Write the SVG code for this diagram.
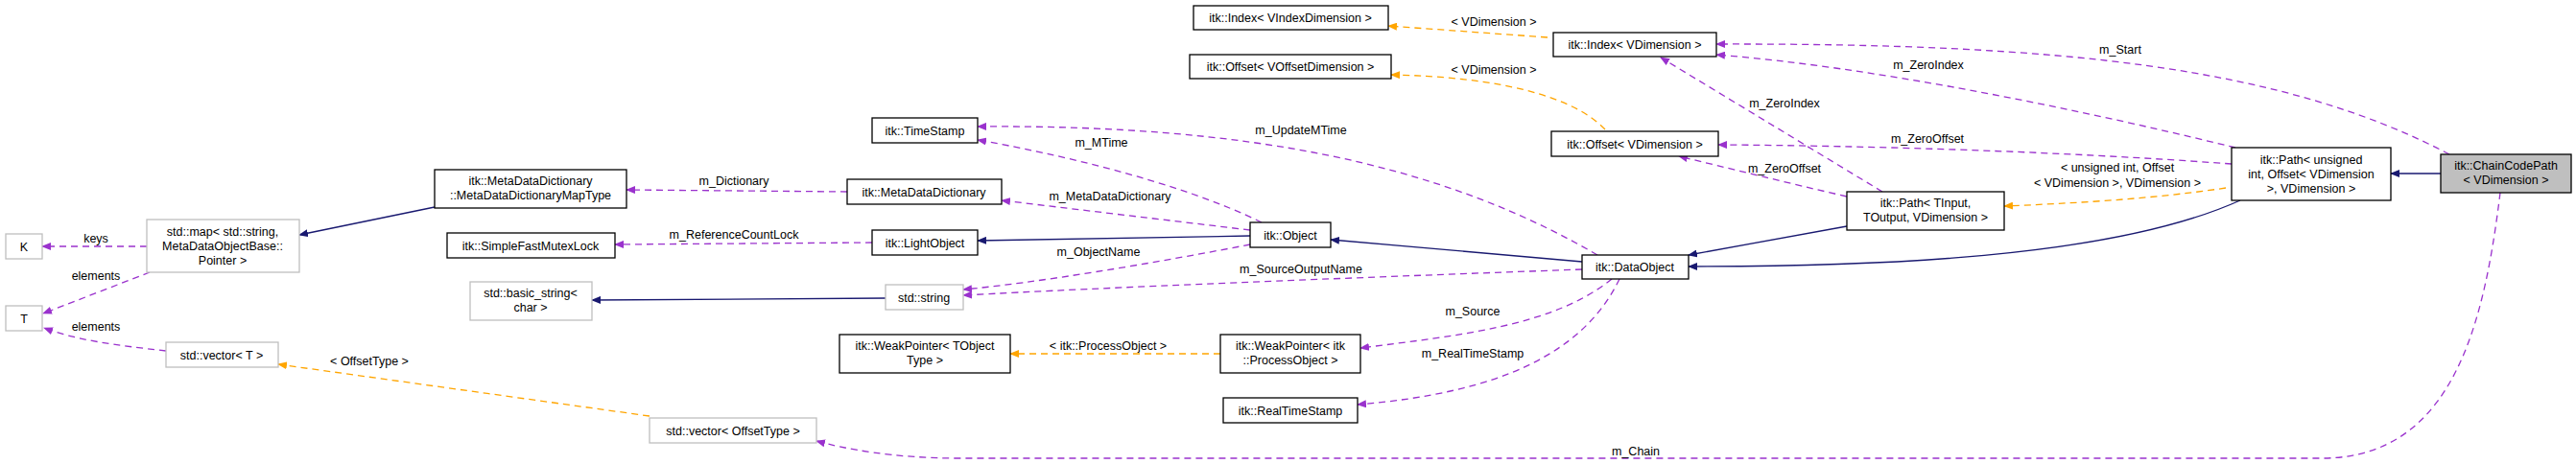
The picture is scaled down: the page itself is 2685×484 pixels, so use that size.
<svg xmlns="http://www.w3.org/2000/svg" width="2685" height="484" viewBox="0 0 2685 484">
<style>
text{font-family:"Liberation Sans",Arial,sans-serif;font-size:12.5px;fill:#000;text-anchor:middle}
.n rect{fill:#fff;stroke:#000;stroke-width:1.3}
.g rect{fill:#fff;stroke:#bfbfbf;stroke-width:1.3}
.sel rect{fill:#bfbfbf;stroke:#000;stroke-width:1.3}
.p{fill:none;stroke:#9a32cd;stroke-dasharray:7,5;stroke-width:1.3;marker-end:url(#ap)}
.o{fill:none;stroke:#ffa500;stroke-dasharray:7,5;stroke-width:1.3;marker-end:url(#ao)}
.b{fill:none;stroke:#191970;stroke-width:1.3;marker-end:url(#ab)}
</style>
<defs>
<marker id="ap" markerWidth="10" markerHeight="8" refX="9" refY="4" orient="auto" markerUnits="userSpaceOnUse"><path d="M0,0L10,4L0,8z" fill="#9a32cd"/></marker>
<marker id="ao" markerWidth="10" markerHeight="8" refX="9" refY="4" orient="auto" markerUnits="userSpaceOnUse"><path d="M0,0L10,4L0,8z" fill="#ffa500"/></marker>
<marker id="ab" markerWidth="10" markerHeight="8" refX="9" refY="4" orient="auto" markerUnits="userSpaceOnUse"><path d="M0,0L10,4L0,8z" fill="#191970"/></marker>
</defs>
<rect width="2685" height="484" fill="#fff"/>
<g id="connectors">
<path class="b" d="M453,216L312,245"/>
<path class="p" d="M153,257L44,257"/>
<path class="p" d="M156,284L45,327"/>
<path class="p" d="M173,366C120,360 80,355 46,342"/>
<path class="o" d="M677,434L290,380"/>
<path class="p" d="M883,200L653,198"/>
<path class="p" d="M909,253L641,255"/>
<path class="b" d="M923,311L617,313"/>
<path class="p" d="M1315,232C1230,190 1100,160 1019,146"/>
<path class="p" d="M1665,266C1500,170 1300,130 1019,132"/>
<path class="p" d="M1303,240L1044,209"/>
<path class="b" d="M1303,246L1019,251"/>
<path class="p" d="M1303,255C1200,275 1080,295 1004,302"/>
<path class="p" d="M1649,281C1400,290 1150,300 1004,308"/>
<path class="b" d="M1649,273L1387,250"/>
<path class="o" d="M1272,369L1053,369"/>
<path class="p" d="M1680,291C1620,340 1520,350 1418,363"/>
<path class="p" d="M1688,291C1650,370 1560,410 1415,422"/>
<path class="o" d="M1613,39L1447,27"/>
<path class="o" d="M1673,135C1640,100 1560,80 1450,78"/>
<path class="p" d="M1962,200L1731,60"/>
<path class="p" d="M1925,205C1860,190 1800,175 1750,163"/>
<path class="b" d="M1925,236L1760,266"/>
<path class="o" d="M2320,196C2240,208 2160,212 2089,215"/>
<path class="b" d="M2335,209C2200,270 1950,278 1760,278"/>
<path class="p" d="M2330,154C2150,110 1950,70 1789,57"/>
<path class="p" d="M2326,171C2150,158 1950,152 1791,151"/>
<path class="b" d="M2544,181L2492,181"/>
<path class="p" d="M2553,161C2380,70 2150,45 1789,46"/>
<path class="p" d="M2606,201C2590,330 2560,478 2420,478L1000,478C930,478 880,468 851,460"/>
<text x="100" y="253">keys</text>
<text x="100" y="292">elements</text>
<text x="100" y="345">elements</text>
<text x="385" y="381">&lt; OffsetType &gt;</text>
<text x="765" y="193">m_Dictionary</text>
<text x="765" y="249">m_ReferenceCountLock</text>
<text x="1148" y="153">m_MTime</text>
<text x="1356" y="140">m_UpdateMTime</text>
<text x="1157" y="209">m_MetaDataDictionary</text>
<text x="1145" y="267">m_ObjectName</text>
<text x="1356" y="285">m_SourceOutputName</text>
<text x="1535" y="329">m_Source</text>
<text x="1535" y="373">m_RealTimeStamp</text>
<text x="1155" y="365">&lt; itk::ProcessObject &gt;</text>
<text x="1705" y="475">m_Chain</text>
<text x="1557" y="27">&lt; VDimension &gt;</text>
<text x="1557" y="77">&lt; VDimension &gt;</text>
<text x="2210" y="56">m_Start</text>
<text x="2010" y="72">m_ZeroIndex</text>
<text x="1860" y="112">m_ZeroIndex</text>
<text x="2009" y="149">m_ZeroOffset</text>
<text x="1860" y="180">m_ZeroOffset</text>
<text x="2207" y="179">&lt; unsigned int, Offset</text>
<text x="2207" y="195">&lt; VDimension &gt;, VDimension &gt;</text>
</g>
<g id="K" class="g"><rect x="6" y="244" width="38" height="26"/><text x="25" y="262">K</text></g>
<g id="T" class="g"><rect x="6" y="319" width="38" height="26"/><text x="25" y="337">T</text></g>
<g id="stdmap" class="g"><rect x="153" y="229" width="159" height="55"/><text x="232" y="246">std::map&lt; std::string,</text><text x="232" y="261">MetaDataObjectBase::</text><text x="232" y="276">Pointer &gt;</text></g>
<g id="MapType" class="n"><rect x="453" y="177" width="200" height="40"/><text x="553" y="193">itk::MetaDataDictionary</text><text x="553" y="208">::MetaDataDictionaryMapType</text></g>
<g id="Mutex" class="n"><rect x="466" y="243" width="175" height="26"/><text x="553" y="261">itk::SimpleFastMutexLock</text></g>
<g id="basicstring" class="g"><rect x="490" y="294" width="127" height="40"/><text x="553" y="310">std::basic_string&lt;</text><text x="553" y="325">char &gt;</text></g>
<g id="vectorT" class="g"><rect x="173" y="357" width="117" height="26"/><text x="231" y="375">std::vector&lt; T &gt;</text></g>
<g id="vectorOffset" class="g"><rect x="677" y="436" width="174" height="26"/><text x="764" y="454">std::vector&lt; OffsetType &gt;</text></g>
<g id="IndexV" class="n"><rect x="1244" y="6" width="203" height="25"/><text x="1345" y="23">itk::Index&lt; VIndexDimension &gt;</text></g>
<g id="OffsetV" class="n"><rect x="1240" y="57" width="210" height="25"/><text x="1345" y="74">itk::Offset&lt; VOffsetDimension &gt;</text></g>
<g id="TimeStamp" class="n"><rect x="909" y="123" width="110" height="26"/><text x="964" y="141">itk::TimeStamp</text></g>
<g id="MDD" class="n"><rect x="883" y="187" width="161" height="26"/><text x="963" y="205">itk::MetaDataDictionary</text></g>
<g id="LightObject" class="n"><rect x="909" y="240" width="110" height="26"/><text x="964" y="258">itk::LightObject</text></g>
<g id="stdstring" class="g"><rect x="923" y="297" width="81" height="26"/><text x="963" y="315">std::string</text></g>
<g id="WPT" class="n"><rect x="875" y="349" width="178" height="40"/><text x="964" y="365">itk::WeakPointer&lt; TObject</text><text x="964" y="380">Type &gt;</text></g>
<g id="Object" class="n"><rect x="1303" y="232" width="84" height="26"/><text x="1345" y="250">itk::Object</text></g>
<g id="WPPO" class="n"><rect x="1272" y="349" width="146" height="40"/><text x="1345" y="365">itk::WeakPointer&lt; itk</text><text x="1345" y="380">::ProcessObject &gt;</text></g>
<g id="RTS" class="n"><rect x="1275" y="415" width="140" height="26"/><text x="1345" y="433">itk::RealTimeStamp</text></g>
<g id="DataObject" class="n"><rect x="1649" y="266" width="111" height="25"/><text x="1704" y="283">itk::DataObject</text></g>
<g id="IndexVD" class="n"><rect x="1619" y="34" width="170" height="25"/><text x="1704" y="51">itk::Index&lt; VDimension &gt;</text></g>
<g id="OffsetVD" class="n"><rect x="1617" y="137" width="174" height="26"/><text x="1704" y="155">itk::Offset&lt; VDimension &gt;</text></g>
<g id="PathT" class="n"><rect x="1925" y="200" width="164" height="40"/><text x="2007" y="216">itk::Path&lt; TInput,</text><text x="2007" y="231">TOutput, VDimension &gt;</text></g>
<g id="PathU" class="n"><rect x="2326" y="154" width="166" height="55"/><text x="2409" y="171">itk::Path&lt; unsigned</text><text x="2409" y="186">int, Offset&lt; VDimension</text><text x="2409" y="201">&gt;, VDimension &gt;</text></g>
<g id="ChainCodePath" class="sel"><rect x="2544" y="161" width="136" height="40"/><text x="2612" y="177">itk::ChainCodePath</text><text x="2612" y="192">&lt; VDimension &gt;</text></g>
</svg>
